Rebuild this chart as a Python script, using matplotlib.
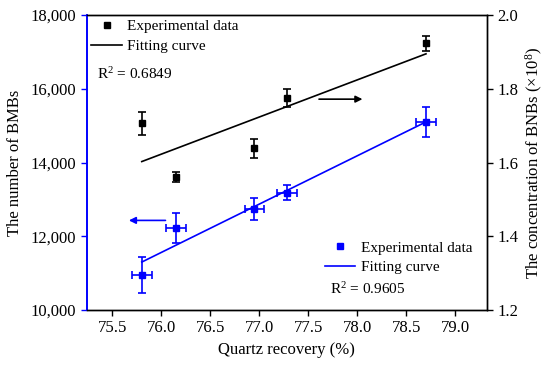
import numpy as np
import matplotlib
matplotlib.use("Agg")
import matplotlib.pyplot as plt
from matplotlib.lines import Line2D

plt.rcParams['font.family'] = ['Liberation Serif', 'DejaVu Serif']
plt.rcParams['mathtext.fontset'] = 'custom'
plt.rcParams['mathtext.rm'] = 'Liberation Serif'
plt.rcParams['mathtext.it'] = 'Liberation Serif:italic'

# Quartz recovery (%)
recovery = [75.80, 76.15, 76.95, 77.28, 78.70]
# Number of BMBs (left axis, blue)
bmb = [10950, 12230, 12750, 13180, 15100]
bmb_yerr = [500, 400, 300, 200, 400]
bmb_xerr = [0.10, 0.10, 0.10, 0.10, 0.10]
# Concentration of BNBs (x1e8, right axis, black)
bnb = [1.707, 1.561, 1.639, 1.775, 1.924]
bnb_yerr = [0.031, 0.013, 0.026, 0.025, 0.020]

r2_bnb = "0.6849"
r2_bmb = "0.9605"

fig = plt.figure(figsize=(5.5, 3.69), dpi=100)
ax = fig.add_axes([0.158, 0.160, 0.727, 0.799])
ax2 = ax.twinx()

blue = '#0000ff'
x = np.array(recovery)

# Blue data (left axis)
ax.errorbar(recovery, bmb, yerr=bmb_yerr, xerr=bmb_xerr, fmt='s', color=blue,
            ms=5, capsize=3, elinewidth=1.2, capthick=1.2)
p = np.polyfit(x, bmb, 1)
ax.plot(x[[0, -1]], np.polyval(p, x[[0, -1]]), color=blue, lw=1.2)

# Black data (right axis)
ax2.errorbar(recovery, bnb, yerr=bnb_yerr, fmt='s', color='black',
             ms=5, capsize=3, elinewidth=1.2, capthick=1.2)
q = np.polyfit(x, bnb, 1)
ax2.plot(x[[0, -1]], np.polyval(q, x[[0, -1]]), color='black', lw=1.2)

ax.set_xlim(75.24, 79.32)
ax.set_ylim(10000, 18000)
ax2.set_ylim(1.2, 2.0)
ax.set_xticks([75.5, 76.0, 76.5, 77.0, 77.5, 78.0, 78.5, 79.0])
ax.set_xticklabels(['75.5', '76.0', '76.5', '77.0', '77.5', '78.0', '78.5', '79.0'])
ax.set_yticks([10000, 12000, 14000, 16000, 18000])
ax.set_yticklabels(['10,000', '12,000', '14,000', '16,000', '18,000'])
ax2.set_yticks([1.2, 1.4, 1.6, 1.8, 2.0])
ax2.set_yticklabels(['1.2', '1.4', '1.6', '1.8', '2.0'])

for a in (ax, ax2):
    a.tick_params(direction='out', length=4, width=1, labelsize=12)
ax.spines['left'].set_color(blue)
ax2.spines['left'].set_color(blue)
ax.tick_params(axis='y', colors=blue, labelcolor='black')
for s in ('bottom', 'top', 'right'):
    ax.spines[s].set_linewidth(1)
    ax2.spines[s].set_linewidth(1)
ax.spines['left'].set_linewidth(1.2)
ax2.spines['left'].set_linewidth(1.2)

ax.set_xlabel('Quartz recovery (%)', fontsize=12)
ax.set_ylabel('The number of BMBs', fontsize=12, labelpad=6)
ax2.set_ylabel('The concentration of BNBs (×10$^{8}$)', fontsize=12, labelpad=4)

# Arrows
ax2.annotate('', xy=(78.08, 1.772), xytext=(77.58, 1.772),
             arrowprops=dict(arrowstyle='-|>', color='black', lw=1.2, mutation_scale=10))
ax.annotate('', xy=(75.64, 12430), xytext=(76.07, 12430),
            arrowprops=dict(arrowstyle='-|>', color=blue, lw=1.2, mutation_scale=10))

# Legends
h1 = [Line2D([], [], marker='s', ls='none', color='black', ms=5),
      Line2D([], [], color='black', lw=1.2)]
leg1 = ax.legend(h1, ['Experimental data', 'Fitting curve'], loc='upper left',
                 bbox_to_anchor=(0.0, 1.0), frameon=False, fontsize=11,
                 handlelength=2.0, handletextpad=0.35, labelspacing=0.4,
                 borderaxespad=0.0, borderpad=0.3)
ax.add_artist(leg1)
h2 = [Line2D([], [], marker='s', ls='none', color=blue, ms=5),
      Line2D([], [], color=blue, lw=1.2)]
ax.legend(h2, ['Experimental data', 'Fitting curve'], loc='lower right',
          bbox_to_anchor=(0.975, 0.105), frameon=False, fontsize=11,
          handlelength=2.0, handletextpad=0.35, labelspacing=0.4,
          borderaxespad=0.0, borderpad=0.3)

ax.text(0.025, 0.80, 'R$^{2}$ = ' + r2_bnb, transform=ax.transAxes, fontsize=11, va='center')
ax.text(0.608, 0.07, 'R$^{2}$ = ' + r2_bmb, transform=ax.transAxes, fontsize=11, va='center')

fig.savefig('out.png', dpi=100)
